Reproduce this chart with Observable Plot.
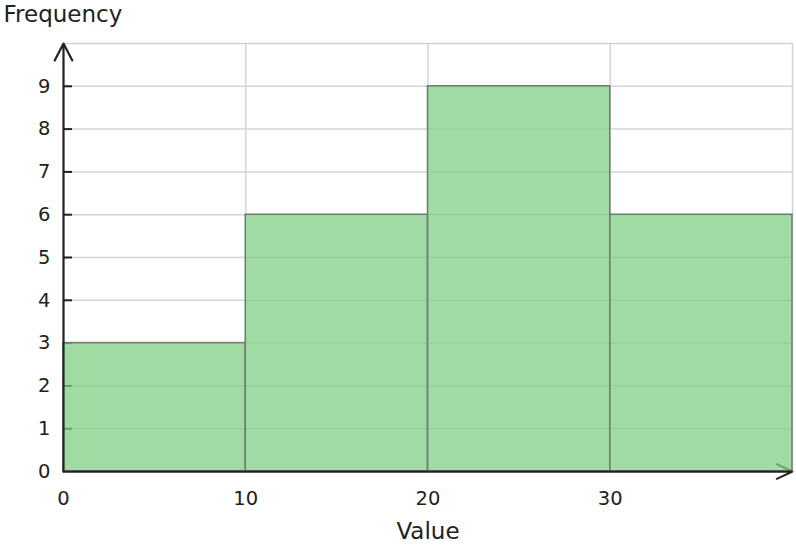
<!DOCTYPE html>
<html>
<head>
<meta charset="utf-8">
<script src="https://cdn.jsdelivr.net/npm/d3@7"></script>
<script src="https://cdn.jsdelivr.net/npm/@observablehq/plot@0.6"></script>
<style>
  html, body { margin: 0; padding: 0; background: #fff; }
  svg { display: block; }
</style>
</head>
<body>
<div id="chart"></div>
<script>
// Histogram bins
const binStarts = [0, 10, 20, 30];
const binEnds = [10, 20, 30, 40];
const counts = [3, 6, 9, 6];
// Axes
const xDomain = [0, 40];
const yDomain = [0, 10];
const xTickValues = [0, 10, 20, 30];
const xGridValues = [10, 20, 30, 40];
const yTickValues = [0, 1, 2, 3, 4, 5, 6, 7, 8, 9];
const yGridValues = [1, 2, 3, 4, 5, 6, 7, 8, 9, 10];
const xLabel = "Value";
const yLabel = "Frequency";

const bins = binStarts.map((s, i) => ({x1: s, x2: binEnds[i], y: counts[i]}));

const font = "DejaVu Sans, sans-serif";

const chart = Plot.plot({
  width: 796,
  height: 548,
  marginLeft: 63,
  marginRight: 4,
  marginTop: 43,
  marginBottom: 77,
  style: {fontFamily: font, background: "#fff", color: "#222"},
  x: {domain: xDomain, label: null},
  y: {domain: yDomain, label: null},
  marks: [
    Plot.gridX(xGridValues, {stroke: "#d4d4d4", strokeOpacity: 1, strokeWidth: 1.5}),
    Plot.gridY(yGridValues, {stroke: "#d4d4d4", strokeOpacity: 1, strokeWidth: 1.5}),
    Plot.axisY(yTickValues.slice(1), {tickSize: -9, text: null, label: null, stroke: "#222", strokeWidth: 2}),
    Plot.arrow([{}], {x1: () => xDomain[0], y1: () => yDomain[0], x2: () => xDomain[1], y2: () => yDomain[0], stroke: "#222", strokeWidth: 2, headLength: 13, headAngle: 50}),
    Plot.rectY(bins, {x1: "x1", x2: "x2", y: "y", fill: "rgb(128,207,134)", fillOpacity: 0.75, stroke: "#777", strokeWidth: 1.5}),
    Plot.ruleY([yDomain[0]], {stroke: "#222", strokeWidth: 2}),
    Plot.arrow([{}], {x1: () => xDomain[0], y1: () => yDomain[0], x2: () => xDomain[0], y2: () => yDomain[1], stroke: "#222", strokeWidth: 2.2, headLength: 13, headAngle: 55}),
    Plot.axisY(yTickValues, {tickSize: 0, tickPadding: 13, fontSize: 19.5, label: null, fill: "#222"}),
    Plot.axisX(xTickValues, {tickSize: 0, tickPadding: 20, fontSize: 19.5, label: null, fill: "#222"}),
    Plot.text([yLabel], {frameAnchor: "top-left", text: d => d, dx: -60, dy: -38, textAnchor: "start", fontSize: 23, fill: "#222"}),
    Plot.text([xLabel], {frameAnchor: "bottom", text: d => d, dy: 67, fontSize: 23, fill: "#222"})
  ]
});
document.getElementById("chart").append(chart);
</script>
</body>
</html>
